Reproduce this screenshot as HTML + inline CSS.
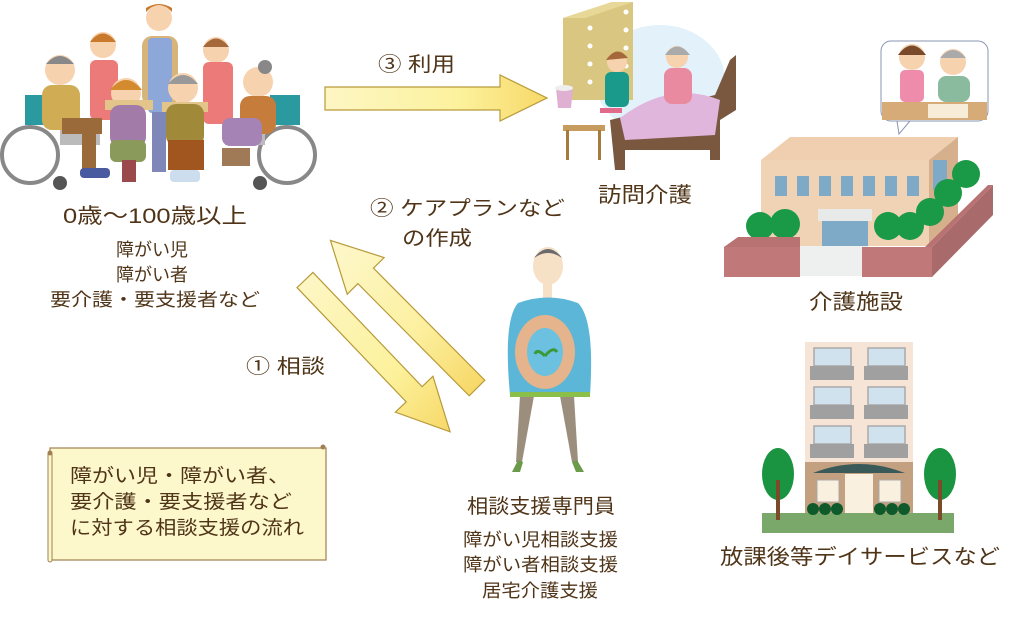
<!DOCTYPE html>
<html><head><meta charset="utf-8"><style>
html,body{margin:0;padding:0;background:#fff;width:1024px;height:620px;overflow:hidden}
svg{display:block}
text{font-family:"Liberation Sans","Noto Sans CJK JP",sans-serif;fill:#4f3418}
</style></head><body>
<svg width="1024" height="620" viewBox="0 0 1024 620" xmlns="http://www.w3.org/2000/svg">
<defs>
<linearGradient id="ga" x1="0" y1="0" x2="1" y2="0">
<stop offset="0" stop-color="#fdf6c4"/><stop offset="0.6" stop-color="#fcf29d"/><stop offset="1" stop-color="#f7d868"/></linearGradient>
<linearGradient id="gb" x1="1" y1="0" x2="0" y2="0">
<stop offset="0" stop-color="#fdf8cc"/><stop offset="0.6" stop-color="#fcf0a0"/><stop offset="1" stop-color="#f7d868"/></linearGradient>
</defs>

<!-- Arrows -->
<path d="M325,87 L500,87 L500,75 L547,98 L500,121 L500,110 L325,110 Z" fill="url(#ga)" stroke="#b89a3a" stroke-width="1.2"/>
<g transform="translate(305,280) rotate(46.3)">
<path d="M0,-11 L158,-11 L158,-26 L210,0 L158,26 L158,11 L0,11 Z" fill="url(#ga)" stroke="#b89a3a" stroke-width="1.2"/>
</g>
<g transform="translate(477,388) rotate(225.2)">
<path d="M0,-11 L158,-11 L158,-26 L208,0 L158,26 L158,11 L0,11 Z" fill="url(#gb)" stroke="#b89a3a" stroke-width="1.2"/>
</g>

<!-- People group -->
<g>
<circle cx="30" cy="155" r="28" fill="none" stroke="#888" stroke-width="4"/>
<circle cx="287" cy="155" r="28" fill="none" stroke="#888" stroke-width="4"/>
<circle cx="60" cy="183" r="7" fill="#555"/><circle cx="260" cy="183" r="7" fill="#555"/>
<rect x="25" y="95" width="30" height="30" fill="#2a9aa0"/>
<rect x="270" y="95" width="30" height="30" fill="#2a9aa0"/>
<rect x="60" y="130" width="40" height="15" fill="#bbb"/>
<rect x="225" y="130" width="40" height="15" fill="#bbb"/>
<circle cx="159" cy="18" r="13" fill="#f7d2ae"/><path d="M146,12 Q159,-2 172,12 L172,8 Q159,0 146,8Z" fill="#c9792e"/>
<rect x="142" y="36" width="36" height="70" rx="10" fill="#d7b57a"/>
<rect x="148" y="38" width="24" height="75" rx="4" fill="#8ea7d9"/>
<rect x="152" y="112" width="14" height="60" fill="#7f86b8"/>
<circle cx="103" cy="45" r="13" fill="#f7d2ae"/><path d="M90,42 Q103,25 116,42Z" fill="#c9782c"/>
<rect x="90" y="60" width="28" height="60" rx="6" fill="#ec7a78"/>
<circle cx="216" cy="50" r="13" fill="#f7d2ae"/><path d="M203,47 Q216,30 229,47Z" fill="#a5683a"/>
<rect x="203" y="62" width="30" height="62" rx="6" fill="#ec7a78"/>
<circle cx="60" cy="70" r="15" fill="#f7d2ae"/><path d="M46,64 Q60,48 74,64Z" fill="#888"/>
<rect x="42" y="85" width="38" height="45" rx="10" fill="#d0ac55"/>
<rect x="62" y="118" width="40" height="16" fill="#9a6a3a"/>
<rect x="82" y="125" width="14" height="48" fill="#9a6a3a"/>
<rect x="80" y="168" width="30" height="10" rx="4" fill="#4a5aa0"/>
<circle cx="126" cy="93" r="15" fill="#f7d2ae"/><path d="M110,90 Q126,70 142,90Z" fill="#d48a2e"/>
<rect x="105" y="100" width="48" height="10" fill="#e3c48a"/>
<rect x="110" y="105" width="36" height="42" rx="10" fill="#a27ba8"/>
<rect x="110" y="140" width="36" height="22" rx="6" fill="#8a9a5a"/>
<rect x="122" y="160" width="14" height="22" fill="#9a4a4a"/>
<circle cx="183" cy="88" r="15" fill="#f7d2ae"/><path d="M168,84 Q183,66 198,84Z" fill="#999"/>
<rect x="162" y="102" width="46" height="10" fill="#e3c48a"/>
<rect x="166" y="104" width="38" height="42" rx="10" fill="#a08a3a"/>
<rect x="168" y="140" width="36" height="30" fill="#a0561e"/>
<rect x="170" y="170" width="30" height="12" rx="4" fill="#cde"/>
<circle cx="258" cy="82" r="15" fill="#f7d2ae"/><circle cx="265" cy="67" r="7" fill="#888"/>
<rect x="240" y="96" width="36" height="38" rx="10" fill="#c67c3a"/>
<rect x="222" y="118" width="40" height="28" rx="8" fill="#a584b5"/>
<rect x="222" y="148" width="28" height="18" fill="#a07a56"/>
</g>

<!-- Home care illustration -->
<g>
<ellipse cx="660" cy="80" rx="65" ry="55" fill="#e3f1fb"/>
<path d="M563,18 L612,2 L633,2 L633,100 L563,100 Z" fill="#d9c680"/>
<path d="M563,18 L612,2 L633,2 L585,18Z" fill="#e8d898"/>
<g fill="#fff"><circle cx="626" cy="12" r="2.5"/><circle cx="626" cy="30" r="2.5"/><circle cx="626" cy="48" r="2.5"/><circle cx="626" cy="66" r="2.5"/><circle cx="590" cy="28" r="2.5"/><circle cx="590" cy="46" r="2.5"/><circle cx="590" cy="64" r="2.5"/><circle cx="590" cy="82" r="2.5"/></g>
<path d="M556,88 L573,88 L571,108 L558,108Z" fill="#e0b0d2"/><ellipse cx="564" cy="88" rx="9" ry="3" fill="#eee"/>
<rect x="563" y="125" width="42" height="6" fill="#c59c5e"/><rect x="566" y="130" width="3" height="30" fill="#a57a3e"/><rect x="598" y="130" width="3" height="30" fill="#a57a3e"/>
<circle cx="617" cy="62" r="10" fill="#f7d2ae"/><path d="M606,60 Q617,44 628,58Z" fill="#a5683a"/>
<rect x="605" y="72" width="24" height="35" rx="6" fill="#1a9a8a"/>
<rect x="600" y="108" width="22" height="5" fill="#e26a8a"/>
<path d="M610,120 L715,95 L730,60 L736,55 L736,110 L720,120 L720,160 L710,160 L710,150 L625,150 L625,170 L615,170Z" fill="#7a5840"/>
<path d="M620,118 Q670,80 720,100 L715,135 L625,140 Z" fill="#e1b6dc"/>
<circle cx="677" cy="57" r="11" fill="#f7d2ae"/><path d="M665,55 Q677,38 690,55Z" fill="#aaa"/>
<rect x="664" y="68" width="28" height="36" rx="8" fill="#ea8aa0"/>
</g>

<!-- Facility -->
<g>
<rect x="881" y="41" width="107" height="80" rx="10" fill="#fff" stroke="#8894b0" stroke-width="1"/>
<path d="M897,121 L899,134 L910,121Z" fill="#fff" stroke="#8894b0" stroke-width="1"/>
<rect x="882" y="102" width="105" height="18" fill="#d6ab78"/>
<circle cx="912" cy="57" r="13" fill="#f7d2ae"/><path d="M898,55 Q912,36 926,55Z" fill="#7a4a2a"/>
<rect x="900" y="70" width="24" height="32" rx="5" fill="#ef8cac"/>
<circle cx="953" cy="62" r="13" fill="#f7d2ae"/><path d="M940,58 Q953,42 966,58Z" fill="#aaa"/>
<rect x="938" y="76" width="32" height="26" rx="8" fill="#8bbb9e"/>
<rect x="928" y="104" width="40" height="14" fill="#f6ecd8"/>
<path d="M761,160 L790,137 L958,137 L929,160 Z" fill="#f0cfb0"/>
<rect x="761" y="160" width="168" height="86" fill="#f0d2b4"/>
<path d="M929,160 L958,137 L958,220 L929,246Z" fill="#d6b08c"/>
<rect x="933" y="160" width="14" height="30" fill="#7eaac8"/>
<g fill="#7eaac8"><rect x="775" y="176" width="12" height="20"/><rect x="797" y="176" width="12" height="20"/><rect x="819" y="176" width="12" height="20"/><rect x="841" y="176" width="12" height="20"/><rect x="863" y="176" width="12" height="20"/><rect x="885" y="176" width="12" height="20"/><rect x="907" y="176" width="12" height="20"/></g>
<rect x="818" y="209" width="54" height="12" fill="#e8eaea"/>
<rect x="822" y="221" width="46" height="25" fill="#7eaac8"/>
<rect x="798" y="246" width="70" height="30" fill="#eef0f0"/>
<path d="M932,247 L993,185 L993,215 L932,277Z" fill="#a86a6a"/>
<path d="M925,247 L988,185 L993,185 L932,247Z" fill="#b97272"/>
<g fill="#1a9a46">
<circle cx="760" cy="226" r="14"/><circle cx="785" cy="224" r="15"/>
<circle cx="888" cy="226" r="14"/><circle cx="910" cy="226" r="14"/><circle cx="930" cy="212" r="14"/><circle cx="948" cy="193" r="14"/><circle cx="966" cy="174" r="14"/>
</g>
<path d="M724,247 L738,237 L800,237 L800,277 L724,277Z" fill="#b97272"/>
<rect x="724" y="247" width="76" height="30" fill="#c07878"/>
<rect x="862" y="247" width="70" height="30" fill="#c07878"/>
</g>

<!-- School building -->
<g>
<rect x="805" y="342" width="108" height="171" fill="#f6e4d6"/>
<g fill="#d0e2ee" stroke="#aaa" stroke-width="1.5">
<rect x="814" y="348" width="37" height="18"/><rect x="868" y="348" width="37" height="18"/>
<rect x="814" y="387" width="37" height="18"/><rect x="868" y="387" width="37" height="18"/>
<rect x="814" y="426" width="37" height="18"/><rect x="868" y="426" width="37" height="18"/>
</g>
<g fill="#a0a0a0"><rect x="810" y="366" width="44" height="14"/><rect x="864" y="366" width="44" height="14"/><rect x="810" y="405" width="44" height="14"/><rect x="864" y="405" width="44" height="14"/><rect x="810" y="444" width="44" height="14"/><rect x="864" y="444" width="44" height="14"/></g>
<rect x="805" y="462" width="108" height="51" fill="#c2a080"/>
<path d="M813,473 Q859,455 905,473Z" fill="#3a5a5a"/>
<rect x="845" y="474" width="28" height="39" fill="#faf0e0"/>
<rect x="817" y="480" width="22" height="22" fill="#faf0e0" stroke="#aaa"/>
<rect x="879" y="480" width="22" height="22" fill="#faf0e0" stroke="#aaa"/>
<rect x="762" y="513" width="192" height="20" fill="#7aa86a"/>
<g fill="#0f5a2a"><circle cx="813" cy="509" r="6"/><circle cx="825" cy="509" r="6"/><circle cx="837" cy="509" r="6"/><circle cx="880" cy="509" r="6"/><circle cx="892" cy="509" r="6"/><circle cx="904" cy="509" r="6"/></g>
<ellipse cx="778" cy="474" rx="16" ry="26" fill="#1a9440"/><rect x="776" y="480" width="4" height="40" fill="#7a4a2a"/>
<ellipse cx="940" cy="474" rx="16" ry="26" fill="#1a9440"/><rect x="938" y="480" width="4" height="40" fill="#7a4a2a"/>
</g>

<!-- Consultant man -->
<g>
<path d="M520,396 L534,396 L522,462 L516,462 Z" fill="#9c8e7c"/>
<path d="M560,396 L574,396 L578,462 L572,462 Z" fill="#9c8e7c"/>
<path d="M512,472 L518,460 L523,462 L520,472Z" fill="#6a9a4a"/>
<path d="M572,462 L577,460 L584,472 L576,472Z" fill="#6a9a4a"/>
<ellipse cx="548" cy="266" rx="15" ry="19" fill="#f6e0c6"/>
<path d="M534,258 Q548,240 562,258 Q548,248 534,258Z" fill="#6a6a6a"/>
<rect x="543" y="283" width="9" height="18" fill="#f6e0c6"/>
<path d="M518,303 Q548,292 578,303 Q595,320 590,395 L510,395 Q503,320 518,303Z" fill="#5bb6d8"/>
<rect x="510" y="392" width="80" height="5" fill="#8ac04a"/>
<ellipse cx="545" cy="352" rx="30" ry="37" fill="#e6b48c"/>
<ellipse cx="545" cy="352" rx="18" ry="24" fill="#6cc0e0"/>
<path d="M545,356 q-8,-8 -10,-2 M545,356 q8,-10 12,-4" stroke="#3a9a3a" stroke-width="3" fill="none"/>
</g>

<!-- Scroll box -->
<g>
<rect x="50" y="448" width="276" height="112" fill="#fdf8cc" stroke="#a08050" stroke-width="1.2"/>
<rect x="48" y="452" width="4" height="110" rx="2" fill="#fdf8cc" stroke="#a08050"/>
<circle cx="50" cy="453" r="2.5" fill="#a08050"/><circle cx="323" cy="447" r="2.5" fill="#a08050"/>
<text x="70" y="482" font-size="19" textLength="220" lengthAdjust="spacingAndGlyphs">障がい児・障がい者、</text>
<text x="70" y="508" font-size="19" textLength="222" lengthAdjust="spacingAndGlyphs">要介護・要支援者など</text>
<text x="70" y="534" font-size="19" textLength="234" lengthAdjust="spacingAndGlyphs">に対する相談支援の流れ</text>
</g>

<!-- Labels -->
<text x="63" y="223" font-size="21" textLength="184" lengthAdjust="spacingAndGlyphs">0歳～100歳以上</text>
<text x="152" y="256" font-size="18" text-anchor="middle">障がい児</text>
<text x="152" y="281" font-size="18" text-anchor="middle">障がい者</text>
<text x="50" y="306" font-size="18" textLength="210" lengthAdjust="spacingAndGlyphs">要介護・要支援者など</text>
<text x="378" y="71" font-size="20" textLength="77" lengthAdjust="spacingAndGlyphs">③ 利用</text>
<text x="370" y="215" font-size="20" textLength="195" lengthAdjust="spacingAndGlyphs">② ケアプランなど</text>
<text x="402" y="245" font-size="20" textLength="70" lengthAdjust="spacingAndGlyphs">の作成</text>
<text x="598" y="202" font-size="21" textLength="94" lengthAdjust="spacingAndGlyphs">訪問介護</text>
<text x="246" y="373" font-size="20" textLength="79" lengthAdjust="spacingAndGlyphs">① 相談</text>
<text x="809" y="309" font-size="21" textLength="94" lengthAdjust="spacingAndGlyphs">介護施設</text>
<text x="467" y="513" font-size="20" textLength="148" lengthAdjust="spacingAndGlyphs">相談支援専門員</text>
<text x="463" y="546" font-size="18" textLength="155" lengthAdjust="spacingAndGlyphs">障がい児相談支援</text>
<text x="463" y="571" font-size="18" textLength="155" lengthAdjust="spacingAndGlyphs">障がい者相談支援</text>
<text x="482" y="597" font-size="18" textLength="116" lengthAdjust="spacingAndGlyphs">居宅介護支援</text>
<text x="720" y="564" font-size="21" textLength="280" lengthAdjust="spacingAndGlyphs">放課後等デイサービスなど</text>
</svg>
</body></html>
